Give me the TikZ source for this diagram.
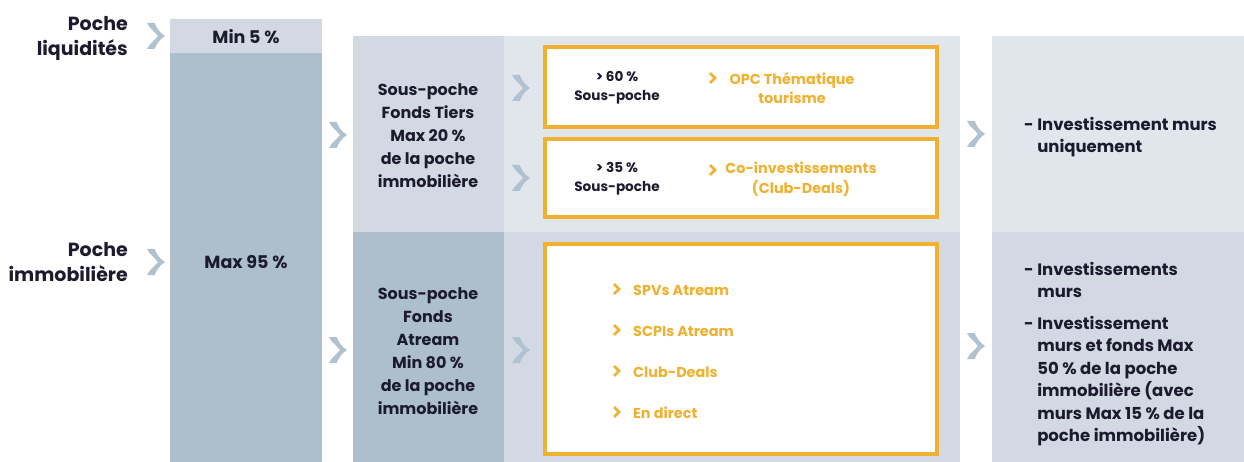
\documentclass[tikz,border=0pt]{standalone}
\usepackage{fontspec}
\setmainfont{Poppins}
\definecolor{ink}{HTML}{1C1B2E}
\definecolor{org}{HTML}{F0B030}
\definecolor{dk}{HTML}{ADBFCC}
\definecolor{md}{HTML}{D3D9E2}
\definecolor{lt}{HTML}{E1E5EC}
\definecolor{chv}{HTML}{B0C2CF}
\tikzset{
  lbl/.style={text=ink,font=\fontsize{16}{23}\selectfont\bfseries,align=center,inner sep=0pt},
  pct/.style={text=ink,font=\fontsize{17.5}{23}\selectfont\bfseries,align=center,inner sep=0pt},
  big/.style={text=ink,font=\fontsize{19}{25}\selectfont\bfseries,align=right,inner sep=0pt},
  small/.style={text=ink,font=\fontsize{13.6}{19}\selectfont\bfseries,align=center,inner sep=0pt},
  otext/.style={text=org,font=\fontsize{14.4}{19.5}\selectfont\bfseries,align=center,inner sep=0pt},
  rtext/.style={text=ink,font=\fontsize{16.5}{22.5}\selectfont\bfseries,align=left,inner sep=0pt},
  obox/.style={draw=org,line width=3.5pt,fill=white},
}
\newcommand\mychev[1]{%
  \fill[chv] (#1) ++(-9,-13) -- ++(7.5,0) .. controls ++(3,6) and ++(-6,-4) .. ++(10.5,13)
     .. controls ++(-6,4) and ++(3,-6) .. ++(-10.5,13) -- ++(-7.5,0)
     .. controls ++(3,-6) and ++(-4,5) .. ++(11,-13)
     .. controls ++(-4,-5) and ++(3,6) .. cycle;}
\newcommand\myochev[1]{%
  \draw[org,line width=2.6pt,line join=miter] (#1) ++(-3,-5) -- ++(5,5) -- ++(-5,5);}
\begin{document}
\begin{tikzpicture}[x=1pt,y=-1pt]
\useasboundingbox (0,0) rectangle (1244,462);
\fill[white] (0,0) rectangle (1244,462);
% column 1
\fill[md] (170,19) rectangle (322,53);
\fill[dk] (170,53) rectangle (322,462);
\node[pct] (min5) at (246,37) {Min 5 \%};
\node[pct] (max95) at (246,262) {Max 95 \%};
\node[big,anchor=east] (liq) at (128,39) {Poche\\liquidités};
\node[big,anchor=east] (immo) at (128,262) {Poche\\immobilière};
% column 2/3 backgrounds
\fill[md] (353,36) rectangle (504,232);
\fill[lt] (504,36) rectangle (960,232);
\fill[dk] (353,232) rectangle (504,462);
\fill[md] (504,232) rectangle (960,462);
% column 4
\fill[lt] (992,36) rectangle (1244,232);
\fill[md] (992,232) rectangle (1244,462);
% column 2 labels
\node[lbl] (tiers) at (428,136) {Sous-poche\\Fonds Tiers\\Max 20 \%\\de la poche\\immobilière};
\node[lbl] (atream) at (428,351) {Sous-poche\\Fonds\\Atream\\Min 80 \%\\de la poche\\immobilière};
% orange boxes
\draw[obox] (545,47) rectangle (937,127);
\draw[obox] (545,139) rectangle (937,217);
\draw[obox] (545,244) rectangle (937,454);
\node[small] (p60) at (617,88) {> 60 \%\\Sous-poche};
\node[small] (p35) at (617,179) {> 35 \%\\Sous-poche};
\myochev{713,78}
\node[otext] (opc) at (792,88) {OPC Thématique\\tourisme};
\myochev{713,170}
\node[otext] (coinv) at (801,179) {Co-investissements\\(Club-Deals)};
\myochev{617,289}
\node[otext,anchor=west] (spv) at (633,290) {SPVs Atream};
\myochev{617,330}
\node[otext,anchor=west] (scpi) at (633,331) {SCPIs Atream};
\myochev{617,371}
\node[otext,anchor=west] (club) at (633,372) {Club-Deals};
\myochev{617,412}
\node[otext,anchor=west] (direct) at (633,413) {En direct};
% column 4 texts
\node[rtext,anchor=west] (murs1) at (1024,137) {- Investissement murs\\\phantom{- }uniquement};
\node[rtext,anchor=west] (murs2) at (1024,280) {- Investissements\\\phantom{- }murs};
\node[rtext,anchor=west] (murs3) at (1024,381) {- Investissement\\\phantom{- }murs et fonds Max\\\phantom{- }50 \% de la poche\\\phantom{- }immobilière (avec\\\phantom{- }murs Max 15 \% de la\\\phantom{- }poche immobilière)};
% chevrons
\mychev{156,36}
\mychev{338,135}
\mychev{156,262}
\mychev{338,350}
\mychev{521,88}
\mychev{521,178}
\mychev{521,350}
\mychev{976,134}
\mychev{976,346}
\end{tikzpicture}
\end{document}
